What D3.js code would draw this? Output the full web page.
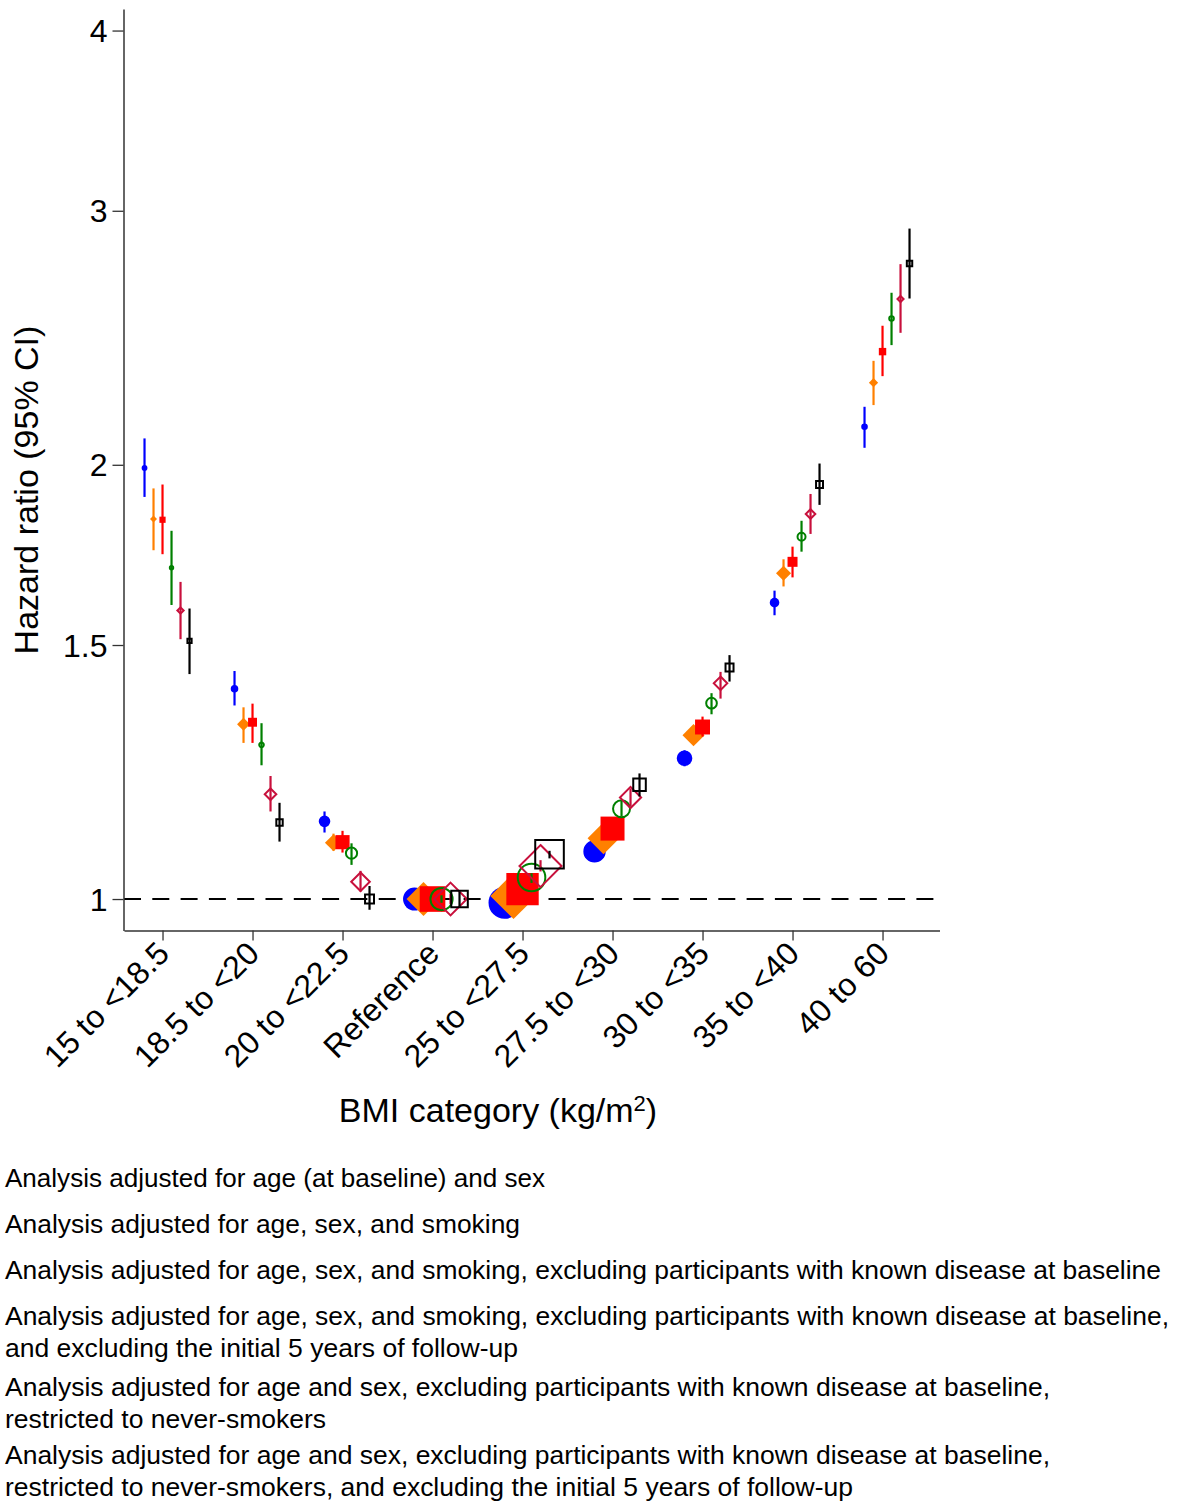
<!DOCTYPE html>
<html>
<head>
<meta charset="utf-8">
<script src="https://cdn.jsdelivr.net/npm/d3@7"></script>
<style>
  body { margin: 0; background: #fff; }
  svg { display: block; font-family: "Liberation Sans", Arial, Helvetica, sans-serif; }
</style>
</head>
<body>
<svg id="chart" width="1182" height="1501"></svg>
<script>
// BMI categories (x axis)
const categories = ["15 to <18.5", "18.5 to <20", "20 to <22.5", "Reference",
  "25 to <27.5", "27.5 to <30", "30 to <35", "35 to <40", "40 to 60"];
const yTickValues = [1, 1.5, 2, 3, 4];

// Hazard ratios, 95% CI bounds and relative weights for each analysis
// 1. adjusted for age and sex
const hrAgeSex = [1.990, 1.399, 1.132, 1, 0.994, 1.079, 1.252, 1.605, 2.125];
const loAgeSex = [1.900, 1.362, 1.112, 0.995, 0.985, 1.068, 1.236, 1.573, 2.055];
const hiAgeSex = [2.086, 1.439, 1.150, 1.005, 1.003, 1.090, 1.268, 1.636, 2.194];
const wtAgeSex = [8.4, 14.4, 33.6, 132, 256, 125, 61, 23, 10.9];
// 2. adjusted for age, sex and smoking
const hrSmk = [1.834, 1.322, 1.094, 1, 1.005, 1.102, 1.299, 1.682, 2.280];
const loSmk = [1.745, 1.283, 1.080, 0.995, 0.995, 1.090, 1.285, 1.647, 2.200];
const hiSmk = [1.926, 1.358, 1.110, 1.005, 1.015, 1.115, 1.313, 1.720, 2.361];
const wtSmk = [5.8, 20, 35, 137, 256, 121, 58, 27, 10.2];
// 3. + excluding known disease at baseline
const hrSmkNoDis = [1.832, 1.326, 1.095, 1, 1.016, 1.119, 1.316, 1.713, 2.396];
const loSmkNoDis = [1.734, 1.283, 1.077, 0.995, 1.006, 1.106, 1.296, 1.671, 2.304];
const hiSmkNoDis = [1.938, 1.366, 1.115, 1.005, 1.027, 1.132, 1.338, 1.755, 2.497];
const wtSmkNoDis = [9.6, 20, 50, 164, 262, 144, 56, 25, 13.7];
// 4. + excluding the first 5 years of follow-up
const hrSmkNoDis5y = [1.697, 1.279, 1.076, 1, 1.035, 1.155, 1.367, 1.783, 2.526];
const loSmkNoDis5y = [1.599, 1.238, 1.056, 0.994, 1.026, 1.141, 1.343, 1.741, 2.421];
const hiSmkNoDis5y = [1.800, 1.324, 1.093, 1.006, 1.042, 1.171, 1.389, 1.829, 2.632];
const wtSmkNoDis5y = [7.3, 10.9, 43.6, 146, 219, 90, 40, 25, 10.9];
// 5. never-smokers, excluding known disease
const hrNever = [1.585, 1.182, 1.028, 1, 1.054, 1.176, 1.411, 1.849, 2.606];
const loNever = [1.514, 1.150, 1.012, 0.992, 1.045, 1.160, 1.377, 1.791, 2.469];
const hiNever = [1.659, 1.217, 1.046, 1.008, 1.064, 1.193, 1.437, 1.909, 2.755];
const wtNever = [10, 25, 55, 151, 240, 69, 32, 18.5, 9.6];
// 6. never-smokers, excluding known disease and the first 5 years
const hrNever5y = [1.510, 1.130, 1.000, 1, 1.074, 1.200, 1.447, 1.938, 2.758];
const loNever5y = [1.432, 1.096, 0.983, 0.988, 1.067, 1.178, 1.415, 1.876, 2.608];
const hiNever5y = [1.590, 1.166, 1.021, 1.012, 1.080, 1.222, 1.476, 2.004, 2.916];
const wtNever5y = [9.6, 17.6, 30, 86, 234, 53, 25, 20, 13.7];

// Legend text, one array of lines per analysis
const legendLines = [
  ["Analysis adjusted for age (at baseline) and sex"],
  ["Analysis adjusted for age, sex, and smoking"],
  ["Analysis adjusted for age, sex, and smoking, excluding participants with known disease at baseline"],
  ["Analysis adjusted for age, sex, and smoking, excluding participants with known disease at baseline,",
   "and excluding the initial 5 years of follow-up"],
  ["Analysis adjusted for age and sex, excluding participants with known disease at baseline,",
   "restricted to never-smokers"],
  ["Analysis adjusted for age and sex, excluding participants with known disease at baseline,",
   "restricted to never-smokers, and excluding the initial 5 years of follow-up"]
];

const analyses = [
  { hr: hrAgeSex, lo: loAgeSex, hi: hiAgeSex, wt: wtAgeSex },
  { hr: hrSmk, lo: loSmk, hi: hiSmk, wt: wtSmk },
  { hr: hrSmkNoDis, lo: loSmkNoDis, hi: hiSmkNoDis, wt: wtSmkNoDis },
  { hr: hrSmkNoDis5y, lo: loSmkNoDis5y, hi: hiSmkNoDis5y, wt: wtSmkNoDis5y },
  { hr: hrNever, lo: loNever, hi: hiNever, wt: wtNever },
  { hr: hrNever5y, lo: loNever5y, hi: hiNever5y, wt: wtNever5y }
];

// marker styles per analysis
const styles = [
  { color: "#0000ff", shape: "circle",  filled: true },
  { color: "#ff8000", shape: "diamond", filled: true },
  { color: "#ff0000", shape: "square",  filled: true },
  { color: "#008000", shape: "circle",  filled: false },
  { color: "#c8103c", shape: "diamond", filled: false },
  { color: "#000000", shape: "square",  filled: false }
];

const svg = d3.select("#chart");

const x = d3.scaleLinear().domain([-0.428, 8.633]).range([124, 939.5]);
const y = d3.scaleLog().domain([0.951, 4.14]).range([930.5, 9]);
const rScale = d3.scaleSqrt().domain([0, 400]).range([0, 20]);
const dodge = 0.1; // horizontal spread between analyses within a category

// reference line at HR = 1
svg.append("line")
  .attr("x1", x.range()[0]).attr("x2", x.range()[1])
  .attr("y1", y(1)).attr("y2", y(1))
  .attr("stroke", "#000").attr("stroke-width", 2)
  .attr("stroke-dasharray", "17,11.3");

// axes
const yAxis = svg.append("g")
  .attr("transform", `translate(${x.range()[0] - 0.5},0)`)
  .call(d3.axisLeft(y).tickValues(yTickValues).tickFormat(d3.format("")).tickSize(11).tickSizeOuter(0).tickPadding(5));
const xAxis = svg.append("g")
  .attr("transform", `translate(0,${y.range()[0]})`)
  .call(d3.axisBottom(x).tickValues(d3.range(categories.length)).tickFormat(i => categories[i]).tickSize(10).tickSizeOuter(0));

[yAxis, xAxis].forEach(g => {
  g.select(".domain").attr("stroke", "#333").attr("stroke-width", 1.5);
  g.selectAll(".tick line").attr("stroke", "#333").attr("stroke-width", 1.3);
  g.selectAll(".tick text").attr("fill", "#000").style("font-size", "32px")
    .style("font-family", "'Liberation Sans', Arial, sans-serif");
});
yAxis.selectAll(".tick text").attr("dy", "0.35em");
xAxis.selectAll(".tick text")
  .attr("x", 0).attr("y", 0).attr("dy", 0)
  .attr("text-anchor", "end")
  .attr("transform", "translate(8,25) rotate(-45)");

// axis titles
svg.append("text")
  .attr("transform", "translate(38,490) rotate(-90)")
  .attr("text-anchor", "middle")
  .style("font-size", "34px")
  .text("Hazard ratio (95% CI)");

const xt = svg.append("text")
  .attr("x", 498).attr("y", 1122)
  .attr("text-anchor", "middle")
  .style("font-size", "34px");
xt.append("tspan").text("BMI category (kg/m");
xt.append("tspan").attr("dy", -11).style("font-size", "22px").text("2");
xt.append("tspan").attr("dy", 11).text(")");

// CIs and point estimates, one analysis after another
const plot = svg.append("g");
analyses.forEach((a, i) => {
  const st = styles[i];
  const pts = categories.map((c, k) => ({
    cx: x(k + (i - 2) * dodge),
    hr: a.hr[k], lo: a.lo[k], hi: a.hi[k], wt: a.wt[k]
  }));
  const g = plot.append("g");
  g.selectAll("line.ci").data(pts).join("line")
    .attr("class", "ci")
    .attr("x1", d => d.cx).attr("x2", d => d.cx)
    .attr("y1", d => y(d.lo)).attr("y2", d => y(d.hi))
    .attr("stroke", st.color).attr("stroke-width", 2.2);

  const size = d => rScale(d.wt) - (st.filled ? 0 : 1);
  const markerPath = d => {
    const s = size(d), cx = d.cx, cy = y(d.hr);
    if (st.shape === "square") {
      return `M${cx - s},${cy - s}H${cx + s}V${cy + s}H${cx - s}Z`;
    }
    if (st.shape === "diamond") {
      const h = s * 1.45;
      return `M${cx},${cy - h}L${cx + h},${cy}L${cx},${cy + h}L${cx - h},${cy}Z`;
    }
    const p = d3.path();
    p.arc(cx, cy, s, 0, 2 * Math.PI);
    return p.toString();
  };
  g.selectAll("path.mk").data(pts).join("path")
    .attr("class", "mk")
    .attr("d", markerPath)
    .attr("fill", st.filled ? st.color : "none")
    .attr("stroke", st.filled ? "none" : st.color)
    .attr("stroke-width", st.filled ? 0 : 2);
});

// legend text (each line fitted to its set width)
const legendBaselines = [[1187], [1233], [1279], [1325, 1357], [1396, 1428], [1464, 1496]];
const legendWidths = [[540], [515], [1156], [1164, 513], [1045, 321], [1045, 848]];
const legend = svg.append("g").style("font-size", "26.4px");
legendLines.forEach((lines, i) => {
  lines.forEach((t, j) => {
    legend.append("text")
      .attr("x", 5).attr("y", legendBaselines[i][j])
      .attr("textLength", legendWidths[i][j])
      .attr("lengthAdjust", "spacingAndGlyphs")
      .text(t);
  });
});
</script>
</body>
</html>
